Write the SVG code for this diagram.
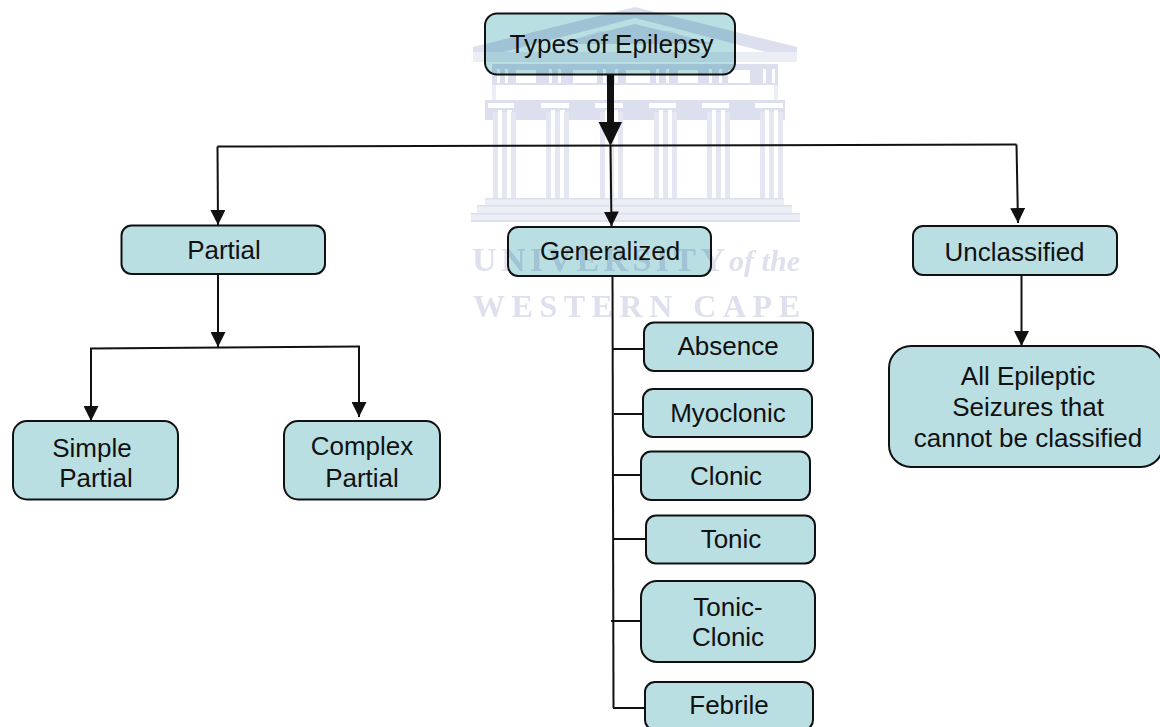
<svg xmlns="http://www.w3.org/2000/svg" width="1160" height="727" viewBox="0 0 1160 727">
<style>
.n rect{fill:#b9dfe3;stroke:#111;stroke-width:2}
.n text{font-family:"Liberation Sans",Arial,sans-serif;font-size:26px;fill:#111;text-anchor:middle}
.c line{fill:none;stroke:#111;stroke-width:2}
.wm{mix-blend-mode:multiply}
.wl{fill:#dcdfee}
.wp{fill:#eceef6}
.wt{font-family:"Liberation Serif","Times New Roman",serif;fill:#dee0ee;font-weight:bold}
</style>
<defs>
<marker id="a" markerUnits="userSpaceOnUse" markerWidth="15" markerHeight="15" refX="15" refY="7.5" orient="auto"><path d="M0 0L15 7.500L0 15Z" fill="#111"/></marker>
<filter id="soft" x="-5%" y="-5%" width="110%" height="110%"><feGaussianBlur stdDeviation="0.7"/></filter>
<g id="col"><path d="M0 112h5v86h-5zM9 112h5v86h-5zM18 112h5v86h-5z" fill="#e4e6f2"/></g>
</defs>
<rect width="1160" height="727" fill="#fff"/>
<g id="connectors" class="c">
<line x1="610.500" y1="74" x2="610.500" y2="125" style="stroke-width:7"/>
<polygon points="598.500,122 622,122 610.500,146" fill="#111"/>
<line x1="217.500" y1="146.500" x2="1016.500" y2="144.500"/>
<line x1="217.500" y1="146.500" x2="218" y2="225" marker-end="url(#a)"/>
<line x1="610.500" y1="146" x2="611.500" y2="226.500" marker-end="url(#a)"/>
<line x1="1016.500" y1="144.500" x2="1018" y2="223" marker-end="url(#a)"/>
<line x1="218" y1="274" x2="218" y2="347" marker-end="url(#a)"/>
<line x1="90" y1="348.500" x2="360" y2="346.500"/>
<line x1="91" y1="348.500" x2="91" y2="421" marker-end="url(#a)"/>
<line x1="359" y1="346.500" x2="359" y2="417" marker-end="url(#a)"/>
<line x1="1021.500" y1="275" x2="1021.500" y2="346" marker-end="url(#a)"/>
<line x1="612.500" y1="276" x2="613.500" y2="708"/>
<line x1="613" y1="349" x2="644" y2="349"/>
<line x1="614" y1="414" x2="643" y2="414"/>
<line x1="612" y1="475" x2="641" y2="475"/>
<line x1="614" y1="539" x2="646" y2="539"/>
<line x1="611" y1="621" x2="641" y2="621"/>
<line x1="613" y1="708" x2="645" y2="708"/>
</g>
<g id="n-types" class="n"><rect x="485" y="13.500" width="250" height="61" rx="12"/><text x="611.500" y="53">Types of Epilepsy</text></g>
<g id="n-partial" class="n"><rect x="121.500" y="225.500" width="203.500" height="48.500" rx="10"/><text x="224" y="259">Partial</text></g>
<g id="n-generalized" class="n"><rect x="508" y="227" width="203" height="49" rx="10"/><text x="610" y="260">Generalized</text></g>
<g id="n-unclassified" class="n"><rect x="913" y="226" width="204" height="49" rx="10"/><text x="1014.500" y="261">Unclassified</text></g>
<g id="n-simple" class="n"><rect x="13" y="421" width="165" height="78.500" rx="14"/><text x="92" y="457">Simple</text><text x="96" y="487">Partial</text></g>
<g id="n-complex" class="n"><rect x="284" y="421" width="156" height="78.500" rx="14"/><text x="362" y="455">Complex</text><text x="362" y="487">Partial</text></g>
<g id="n-all" class="n"><rect x="889" y="346" width="274" height="121" rx="22"/><text x="1028" y="385">All Epileptic</text><text x="1028" y="416">Seizures that</text><text x="1028" y="447">cannot be classified</text></g>
<g id="n-absence" class="n"><rect x="644" y="322.500" width="169" height="48.500" rx="10"/><text x="728" y="355">Absence</text></g>
<g id="n-myoclonic" class="n"><rect x="643" y="389" width="169" height="48" rx="10"/><text x="728" y="422">Myoclonic</text></g>
<g id="n-clonic" class="n"><rect x="641" y="451.500" width="169" height="48.500" rx="10"/><text x="726" y="485">Clonic</text></g>
<g id="n-tonic" class="n"><rect x="646" y="515.500" width="169" height="48" rx="10"/><text x="731" y="548">Tonic</text></g>
<g id="n-tonic-clonic" class="n"><rect x="641" y="581" width="174" height="81" rx="16"/><text x="728" y="616">Tonic-</text><text x="728" y="646">Clonic</text></g>
<g id="n-febrile" class="n"><rect x="645" y="682" width="168" height="48" rx="10"/><text x="729" y="714">Febrile</text></g>
<g id="watermark" class="wm" filter="url(#soft)">
<path class="wl" fill-rule="evenodd" d="M635 7L797 47V60L635 18L473 60V47ZM635 24L715 44H555Z"/>
<path class="wp" d="M473 52H797V62H473Z"/>
<path class="wl" d="M600 31L670 31L700 41H570Z" fill-opacity=".6"/>
<path class="wl" fill-rule="evenodd" d="M492 64H778V85H492ZM497 69h3v14h-3zM505 69h3v14h-3zM516 70h20v13h-20zM549 69h3v14h-3zM558 69h3v14h-3zM573 70h24v13h-24zM603 69h3v14h-3zM615 69h3v14h-3zM626 70h24v13h-24zM656 69h3v14h-3zM666 69h3v14h-3zM678 70h20v13h-20zM709 69h3v14h-3zM719 69h3v14h-3zM728 70h22v13h-22zM763 69h3v14h-3zM772 69h3v14h-3z"/>
<path class="wp" d="M492 85h4v15h-4zM774 85h4v15h-4z"/>
<path class="wl" fill-rule="evenodd" d="M485 100H785V120H485ZM488 103h26v5h-26zM541 103h28v5h-28zM595 103h28v5h-28zM649 103h27v5h-27zM702 103h27v5h-27zM755 103h28v5h-28zM498 110h4v10h-4zM507 110h5v10h-5zM551 110h4v10h-4zM560 110h5v10h-5zM605 110h4v10h-4zM614 110h4v10h-4zM659 110h4v10h-4zM668 110h4v10h-4zM712 110h4v10h-4zM721 110h4v10h-4zM765 110h4v10h-4zM774 110h4v10h-4z"/>
<use href="#col" x="493"/><use href="#col" x="546"/><use href="#col" x="600"/><use href="#col" x="654"/><use href="#col" x="707"/><use href="#col" x="760"/>
<rect class="wp" x="485" y="198" width="299" height="7"/>
<rect class="wl" x="485" y="198" width="299" height="1.500"/>
<rect class="wp" x="477" y="205" width="315" height="8"/>
<rect class="wl" x="477" y="205" width="315" height="1.500"/>
<rect class="wp" x="471" y="213" width="329" height="9"/>
<rect class="wl" x="471" y="213" width="329" height="1.500"/>
<rect class="wl" x="471" y="220" width="329" height="2"/>
<text class="wt" x="472" y="271" font-size="34" textLength="253">UNIVERSITY</text>
<text class="wt" x="729" y="271" font-size="30" font-style="italic" font-weight="normal" textLength="71">of the</text>
<text class="wt" x="473" y="317" font-size="32" textLength="327">WESTERN CAPE</text>
</g>
</svg>
